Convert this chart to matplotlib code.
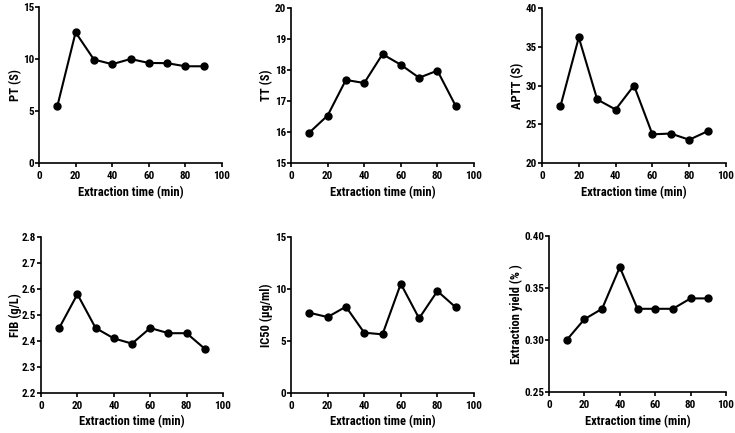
import matplotlib
matplotlib.use("Agg")
import matplotlib.pyplot as plt

plt.rcParams['font.family'] = ['Roboto Condensed', 'Liberation Sans', 'DejaVu Sans']
plt.rcParams['font.weight'] = 'bold'

time_min = [10, 20, 30, 40, 50, 60, 70, 80, 90]
pt = [5.45, 12.56, 9.95, 9.5, 10.0, 9.62, 9.6, 9.3, 9.3]
tt = [15.98, 16.53, 17.68, 17.58, 18.51, 18.17, 17.75, 17.98, 16.84]
aptt = [27.3, 36.2, 28.2, 26.9, 30.0, 23.7, 23.8, 23.0, 24.1]
fib = [2.45, 2.58, 2.45, 2.41, 2.39, 2.45, 2.43, 2.43, 2.37]
ic50 = [7.72, 7.3, 8.3, 5.8, 5.64, 10.5, 7.18, 9.8, 8.24]
yield_pct = [0.30, 0.32, 0.33, 0.37, 0.33, 0.33, 0.33, 0.34, 0.34]

xlabel = 'Extraction time (min)'
ylabels = ['PT (S)', 'TT (S)', 'APTT (S)', 'FIB (g/L)', 'IC50 (\u03bcg/ml)', 'Extraction yield (% )']
series = [pt, tt, aptt, fib, ic50, yield_pct]
ylims = [(0, 15), (15, 20), (20, 40), (2.2, 2.8), (0, 15), (0.25, 0.40)]
yticks = [[0, 5, 10, 15], [15, 16, 17, 18, 19, 20], [20, 25, 30, 35, 40],
          [2.2, 2.3, 2.4, 2.5, 2.6, 2.7, 2.8], [0, 5, 10, 15], [0.25, 0.30, 0.35, 0.40]]
yfmt = ['{:.0f}', '{:.0f}', '{:.0f}', '{:.1f}', '{:.0f}', '{:.2f}']
xticks = [0, 20, 40, 60, 80, 100]

W, H = 735, 433
boxes = [(39, 7, 222, 163), (291, 8, 474, 163), (542, 8, 726, 163),
         (41, 237, 223, 393), (291, 237, 474, 393), (549, 236, 726, 392)]
ylabel_x = [16, 267, 518, 15, 266, 516]
xlabel_y = [193, 193, 193, 422, 422, 422]

fig = plt.figure(figsize=(7.35, 4.33), dpi=100)
for i in range(6):
    x0, y0, x1, y1 = boxes[i]
    ax = fig.add_axes([x0 / W, 1 - y1 / H, (x1 - x0) / W, (y1 - y0) / H])
    ax.plot(time_min, series[i], color='black', lw=1.5, marker='o', ms=5, clip_on=False)
    ax.set_xlim(0, 100)
    ax.set_ylim(*ylims[i])
    ax.set_xticks(xticks)
    ax.set_yticks(yticks[i])
    ax.set_yticklabels([yfmt[i].format(v) for v in yticks[i]])
    for s in ['top', 'right']:
        ax.spines[s].set_visible(False)
    for s in ['left', 'bottom']:
        ax.spines[s].set_linewidth(1.2)
    ax.tick_params(axis='both', direction='out', length=3, width=1.2, labelsize=8)
    ax.tick_params(axis='x', pad=3)
    ax.tick_params(axis='y', pad=0.5)
    for lab in ax.get_xticklabels() + ax.get_yticklabels():
        lab.set_fontweight('bold')
    ax.set_xlabel(xlabel, fontsize=9, fontweight='bold', va='center')
    ax.set_ylabel(ylabels[i], fontsize=9, fontweight='bold', va='center')
    ax.xaxis.set_label_coords(0.5, (y1 - xlabel_y[i]) / (y1 - y0))
    ax.yaxis.set_label_coords((ylabel_x[i] - x0) / (x1 - x0), 0.5)

fig.savefig('out.png', dpi=100)
